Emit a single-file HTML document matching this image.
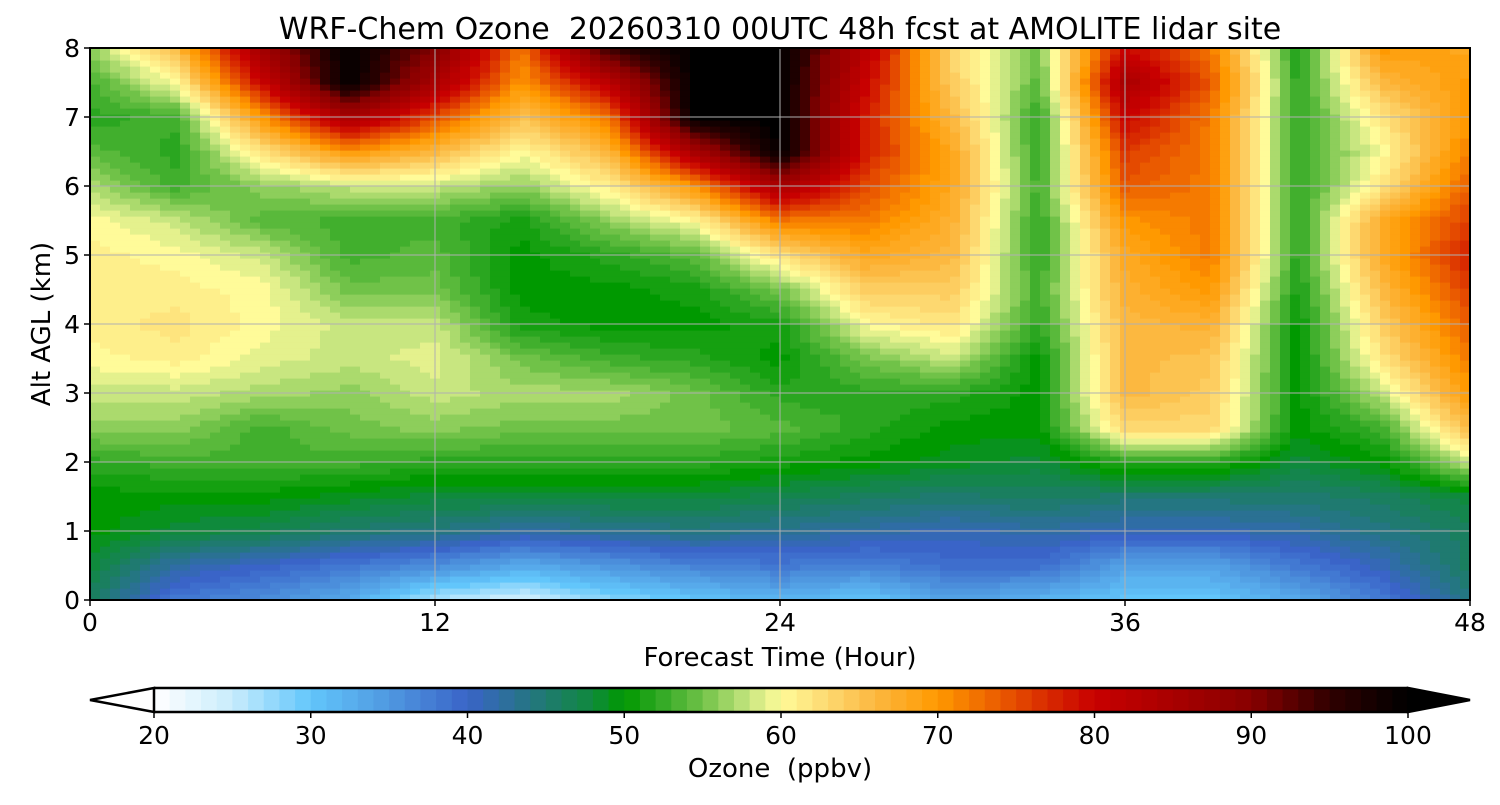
<!DOCTYPE html>
<html><head><meta charset="utf-8"><style>
html,body{margin:0;padding:0;background:#fff;}
svg text{font-family:"DejaVu Sans","Liberation Sans",sans-serif;fill:#000;white-space:pre;}
</style></head><body>
<svg id="chart" width="1500" height="800" xmlns="http://www.w3.org/2000/svg">
<text x="780" y="39" font-size="30" text-anchor="middle">WRF-Chem Ozone  20260310 00UTC 48h fcst at AMOLITE lidar site</text>
<g id="cells"></g>
<g id="grid"></g>
<rect x="90" y="48" width="1380" height="552" fill="none" stroke="#000" stroke-width="2"/>
<g id="axes"></g>
<text x="780" y="666" font-size="26" text-anchor="middle">Forecast Time (Hour)</text>
<text transform="translate(50,324) rotate(-90)" font-size="26" text-anchor="middle">Alt AGL (km)</text>
<g id="cbar"></g>
<text x="780" y="777" font-size="26" text-anchor="middle">Ozone  (ppbv)</text>
</svg>
<script>
const hours=[0,3,6,9,12,15,18,21,24,27,30,33,36,39,42,45,48];
const alts=[0,0.5,1,1.5,2,2.5,3,3.5,4,4.5,5,5.5,6,6.5,7,7.5,8];
// ozone[i] = profile at hours[i], from alt 0 to 8
const ozone=[
[46,48,50,50,52,56,58,60,61,61,61,60,57,54,52,53,56],
[38,42,48,50,53,56,58,61,62,61,60,58,53,52,53,60,66],
[36,40,47,50,53,53,57,59,60,60,58,54,56,62,70,80,86],
[33,38,45,49,53,55,56,58,58,55,53,53,58,70,85,100,100],
[26,36,44,48,52,56,58,59,58,55,54,53,58,66,75,85,90],
[24,33,42,48,52,55,57,55,51,50,50,51,56,60,65,70,72],
[28,35,43,48,52,55,57,53,50,50,52,56,61,66,72,82,95],
[30,37,44,48,52,55,55,52,50,51,54,60,70,85,100,100,100],
[32,38,43,47,51,54,52,50,51,55,62,72,85,100,100,100,100],
[30,37,42,46,50,52,52,55,60,64,68,72,75,78,78,80,82],
[34,39,41,45,49,50,52,58,62,64,66,67,68,68,66,64,63],
[32,39,42,46,48,50,50,50,52,53,52,52,53,52,52,54,55],
[30,34,41,45,52,63,66,66,66,67,68,70,74,76,80,85,80],
[30,34,41,45,52,63,64,65,67,70,72,72,72,72,72,74,72],
[33,38,42,45,48,50,50,50,50,51,52,52,52,52,52,52,51],
[38,41,44,46,50,53,58,62,64,66,68,68,62,60,62,66,70],
[44,46,46,48,58,66,70,72,74,76,78,76,74,72,70,70,68]];
const cbTicks=[20,30,40,50,60,70,80,90,100];
const xTicks=[0,12,24,36,48];
const yTicks=[0,1,2,3,4,5,6,7,8];
const stops=[[20,'#ffffff'],[25,'#c8ecfc'],[30,'#62c6fb'],[35,'#4f98e0'],[40,'#3a64c8'],[45,'#1f7a70'],[48,'#0f8a3c'],[50,'#009900'],[52,'#2aa620'],[55,'#70c248'],[58,'#c8e680'],[60,'#fffb99'],[63,'#fdd870'],[66,'#fcb840'],[70,'#ff9900'],[74,'#ea5a00'],[77,'#d82a00'],[80,'#c80000'],[85,'#a80000'],[90,'#880000'],[95,'#300000'],[100,'#000000']];
const X0=90,X1=1470,Y0=600,Y1=48;
const xs=h=>X0+(h-hours[0])/(hours[hours.length-1]-hours[0])*(X1-X0);
const ys=a=>Y0-(a-alts[0])/(alts[alts.length-1]-alts[0])*(Y0-Y1);
const C0=154,C1=1408;
const cs=v=>C0+(v-20)/80*(C1-C0);
function hex(c){return [1,3,5].map(i=>parseInt(c.substr(i,2),16));}
function color(v){v=Math.max(20,Math.min(100,v));
 for(let i=1;i<stops.length;i++){if(v<=stops[i][0]){const a=hex(stops[i-1][1]),b=hex(stops[i][1]);const t=(v-stops[i-1][0])/(stops[i][0]-stops[i-1][0]);return 'rgb('+a.map((x,k)=>Math.round(x+(b[k]-x)*t)).join(',')+')';}}
 return '#000';}
function val(h,a){
 let i=0;while(i<hours.length-2&&h>hours[i+1])i++;
 let j=0;while(j<alts.length-2&&a>alts[j+1])j++;
 const tx=(h-hours[i])/(hours[i+1]-hours[i]),ty=(a-alts[j])/(alts[j+1]-alts[j]);
 const v00=ozone[i][j],v10=ozone[i+1][j],v01=ozone[i][j+1],v11=ozone[i+1][j+1];
 return v00*(1-tx)*(1-ty)+v10*tx*(1-ty)+v01*(1-tx)*ty+v11*tx*ty;}
const NS='http://www.w3.org/2000/svg';
function mk(tag,attrs,parent){const e=document.createElementNS(NS,tag);for(const k in attrs)e.setAttribute(k,attrs[k]);parent.appendChild(e);return e;}
const cellsG=document.getElementById('cells');
const NX=138,NY=92,H0=hours[0],H1=hours[hours.length-1],A0=alts[0],A1=alts[alts.length-1];
for(let ix=0;ix<NX;ix++){for(let iy=0;iy<NY;iy++){
 const h0=H0+(H1-H0)*ix/NX,h1=H0+(H1-H0)*(ix+1)/NX,a0=A0+(A1-A0)*iy/NY,a1=A0+(A1-A0)*(iy+1)/NY;
 const v=Math.round(val((h0+h1)/2,(a0+a1)/2));
 const r=mk('rect',{x:xs(h0),y:ys(a1),width:xs(h1)-xs(h0)+0.6,height:ys(a0)-ys(a1)+0.6,fill:color(v)},cellsG);
 
 
}}
const gridG=document.getElementById('grid'),axesG=document.getElementById('axes');
xTicks.forEach(t=>{
 const l=mk('line',{x1:xs(t),x2:xs(t),y1:Y1,y2:Y0,stroke:'#b0b0b0','stroke-width':1},gridG);
 
 
 const k=mk('line',{x1:xs(t),x2:xs(t),y1:Y0,y2:Y0+6,stroke:'#000','stroke-width':1.5},axesG);
 
 
 const tx=mk('text',{x:xs(t),y:Y0+31,'font-size':25,'text-anchor':'middle'},axesG);tx.textContent=t;
 
 
});
yTicks.forEach(t=>{
 const l=mk('line',{x1:X0,x2:X1,y1:ys(t),y2:ys(t),stroke:'#b0b0b0','stroke-width':1},gridG);
 
 
 const k=mk('line',{x1:X0-6,x2:X0,y1:ys(t),y2:ys(t),stroke:'#000','stroke-width':1.5},axesG);
 
 
 const tx=mk('text',{x:X0-10,y:ys(t)+9,'font-size':25,'text-anchor':'end'},axesG);tx.textContent=t;
 
 
});
const cbG=document.getElementById('cbar');
const CY0=688,CY1=712;
for(let v=20;v<100;v++){
 const r=mk('rect',{x:cs(v),y:CY0,width:cs(v+1)-cs(v)+0.5,height:CY1-CY0,fill:color(v+0.5)},cbG);
 
 
}
const ltri=mk('polygon',{points:`${cs(20)},${CY0} 90,700 ${cs(20)},${CY1}`,fill:'#fff',stroke:'#000','stroke-width':2.5},cbG);


const rtri=mk('polygon',{points:`${cs(100)},${CY0} 1470,700 ${cs(100)},${CY1}`,fill:'#000',stroke:'#000','stroke-width':2.5},cbG);


const cbTop=mk('line',{x1:cs(20),x2:cs(100),y1:CY0,y2:CY0,stroke:'#000','stroke-width':2.5},cbG);


const cbBot=mk('line',{x1:cs(20),x2:cs(100),y1:CY1,y2:CY1,stroke:'#000','stroke-width':2.5},cbG);


cbTicks.forEach(t=>{
 const k=mk('line',{x1:cs(t),x2:cs(t),y1:CY1,y2:CY1+6,stroke:'#000','stroke-width':1.5},cbG);
 
 
 const tx=mk('text',{x:cs(t),y:CY1+32,'font-size':25,'text-anchor':'middle'},cbG);tx.textContent=t;
 
 
});
</script>
</body></html>
